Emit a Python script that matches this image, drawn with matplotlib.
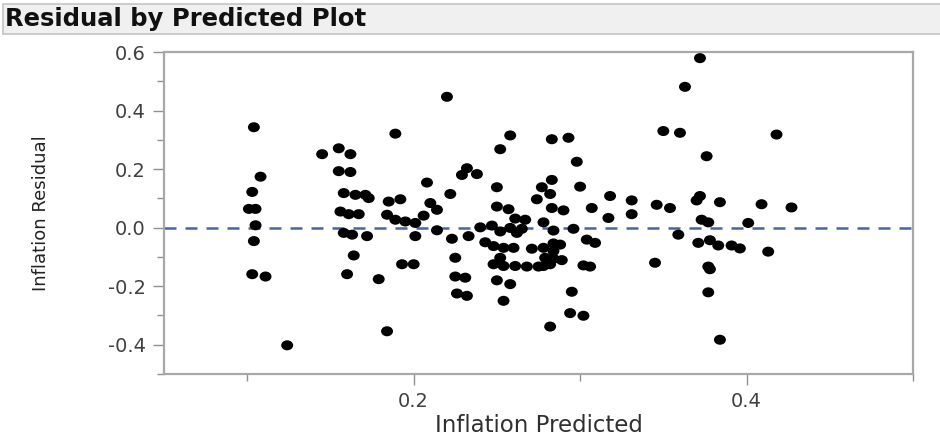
import numpy as np
import matplotlib
matplotlib.use("Agg")
import matplotlib.pyplot as plt
from matplotlib.patches import Rectangle
from matplotlib.path import Path
from matplotlib.transforms import Affine2D
from matplotlib.ticker import MultipleLocator

# predicted inflation vs. residual, one entry per observation
predicted = [
    0.104, 0.108, 0.103, 0.101, 0.105, 0.105, 0.104, 0.103, 0.111, 0.124,
    0.145, 0.155, 0.162, 0.155, 0.162, 0.158, 0.165, 0.171, 0.173, 0.156,
    0.161, 0.167, 0.158, 0.163, 0.172, 0.164, 0.160, 0.179,
    0.189, 0.185, 0.192, 0.184, 0.189, 0.195, 0.201, 0.206, 0.208, 0.210,
    0.214, 0.201, 0.214, 0.193, 0.200, 0.184,
    0.220, 0.222, 0.229, 0.232, 0.238, 0.223, 0.233, 0.225, 0.225, 0.231,
    0.226, 0.232,
    0.250, 0.252, 0.258, 0.250, 0.257, 0.261, 0.267, 0.240, 0.247, 0.252,
    0.258, 0.265, 0.262, 0.243, 0.248, 0.254, 0.260, 0.271, 0.252, 0.248,
    0.254, 0.261, 0.268, 0.275, 0.250, 0.258, 0.254,
    0.274, 0.277, 0.283, 0.282, 0.283, 0.290, 0.278, 0.284, 0.296, 0.278,
    0.284, 0.288, 0.284, 0.279, 0.284, 0.289, 0.278, 0.282, 0.283, 0.293,
    0.298, 0.300, 0.307, 0.304, 0.309, 0.302, 0.306, 0.295, 0.294, 0.302,
    0.282,
    0.318, 0.331, 0.317, 0.331, 0.346, 0.354, 0.345, 0.350, 0.360, 0.363,
    0.359,
    0.372, 0.376, 0.372, 0.370, 0.384, 0.409, 0.427, 0.373, 0.377, 0.401,
    0.371, 0.378, 0.383, 0.391, 0.396, 0.413, 0.377, 0.378, 0.377, 0.384,
    0.418,
]
residual = [
    0.343, 0.174, 0.122, 0.064, 0.064, 0.008, -0.046, -0.159, -0.167, -0.402,
    0.251, 0.271, 0.251, 0.193, 0.190, 0.118, 0.112, 0.112, 0.101, 0.055,
    0.046, 0.046, -0.018, -0.024, -0.029, -0.095, -0.159, -0.176,
    0.321, 0.089, 0.097, 0.044, 0.027, 0.021, 0.016, 0.041, 0.154, 0.084,
    0.061, -0.029, -0.009, -0.125, -0.125, -0.354,
    0.447, 0.115, 0.180, 0.203, 0.183, -0.038, -0.029, -0.103, -0.167, -0.171,
    -0.225, -0.233,
    0.138, 0.268, 0.315, 0.072, 0.063, 0.031, 0.027, 0.001, 0.007, -0.013,
    -0.001, -0.004, -0.018, -0.050, -0.063, -0.069, -0.069, -0.072, -0.103, -0.125,
    -0.131, -0.131, -0.133, -0.133, -0.180, -0.193, -0.250,
    0.097, 0.138, 0.163, 0.115, 0.067, 0.059, 0.018, -0.010, -0.004, -0.069,
    -0.054, -0.058, -0.080, -0.103, -0.106, -0.111, -0.131, -0.125, 0.302, 0.307,
    0.225, 0.140, 0.067, -0.041, -0.052, -0.129, -0.133, -0.219, -0.292, -0.301,
    -0.338,
    0.108, 0.093, 0.033, 0.046, 0.078, 0.067, -0.120, 0.330, 0.324, 0.481,
    -0.024,
    0.579, 0.244, 0.108, 0.093, 0.087, 0.080, 0.069, 0.027, 0.018, 0.016,
    -0.052, -0.043, -0.061, -0.061, -0.071, -0.082, -0.133, -0.142, -0.221, -0.383,
    0.318,
]

x_ticks = [0.2, 0.4]
y_ticks = [-0.4, -0.2, 0.0, 0.2, 0.4, 0.6]

fig = plt.figure(figsize=(9.4, 4.38), dpi=100)

# header strip with the report title
fig.patches.append(Rectangle((3 / 940, 1 - 34 / 438), 1.0, 30 / 438,
                             transform=fig.transFigure, facecolor="#f0f0f0",
                             edgecolor="#c4c4c4", lw=1.2, zorder=0))
fig.text(5 / 940, 1 - 19 / 438, "Residual by Predicted Plot", fontsize=17.5,
         fontweight="bold", color="#111111", va="center", ha="left")

# slightly flattened dot marker
dot = Path.unit_circle().transformed(Affine2D().scale(1.0, 0.84))

ax = fig.add_axes([164 / 940, 1 - 374 / 438, (913 - 164) / 940, (374 - 52) / 438])
ax.scatter(predicted, residual, s=74, marker=dot, color="black",
           edgecolors="none", zorder=3)
ax.axhline(0, color="#4a64a0", lw=1.8, ls=(0, (4.8, 3.6)), zorder=2)

ax.set_xlim(0.05, 0.5)
ax.set_ylim(-0.5, 0.6)
ax.set_xticks(x_ticks)
ax.set_yticks(y_ticks)
ax.set_yticklabels([f"{v:.1f}" for v in y_ticks])
ax.xaxis.set_minor_locator(MultipleLocator(0.1))
ax.yaxis.set_minor_locator(MultipleLocator(0.1))
ax.tick_params(which="major", length=8, width=1, color="#909090",
               labelsize=14, labelcolor="#404040", pad=5)
ax.tick_params(which="minor", length=5, width=1, color="#909090")
for sp in ax.spines.values():
    sp.set_color("#a8a8a8")
    sp.set_linewidth(1.6)

ax.set_xlabel("Inflation Predicted", fontsize=16.5, color="#303030", labelpad=2)
ax.set_ylabel("Inflation Residual", fontsize=13, color="#222222")
ax.yaxis.set_label_coords(-0.152, 0.5)

fig.savefig("out.png", dpi=100)
